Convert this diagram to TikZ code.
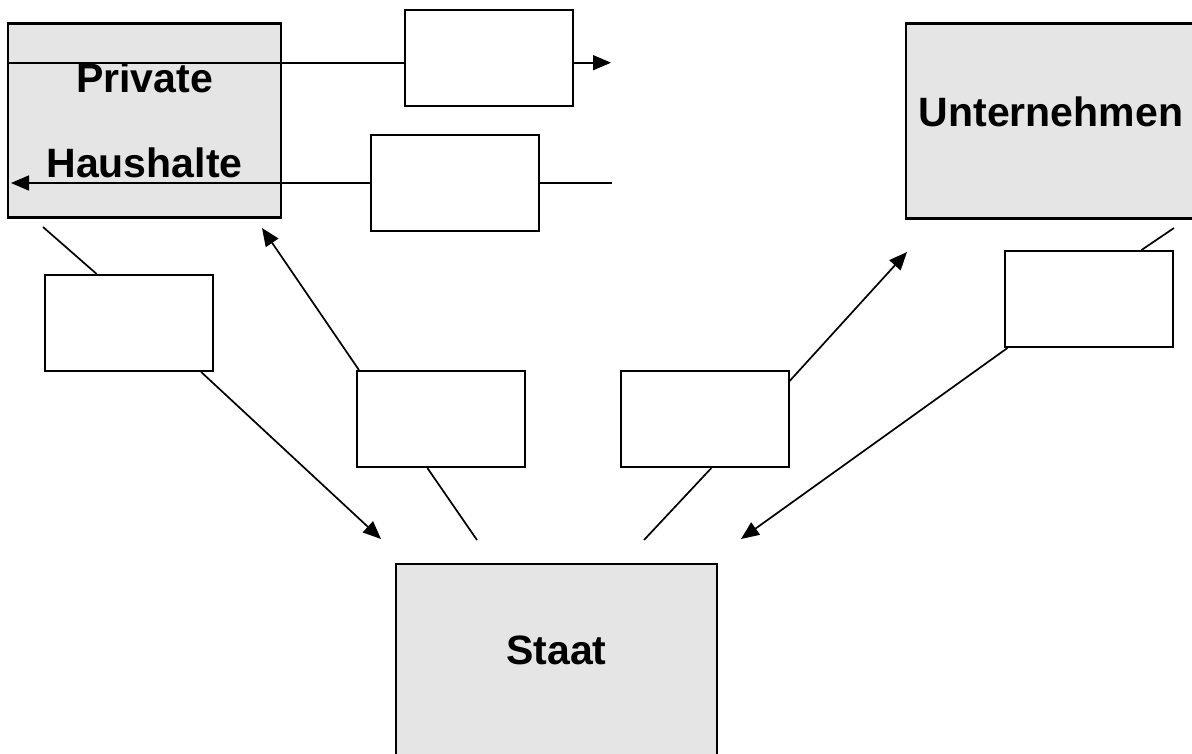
\documentclass[tikz,border=0pt]{standalone}
\usepackage{fontspec}
\setmainfont{Liberation Sans}
\usetikzlibrary{arrows.meta,positioning}

\begin{document}
\begin{tikzpicture}[x=1pt,y=-1pt]
		\tikzstyle{sector_box}=[draw=black, line width=2.6pt, fill=black!10, inner sep=0pt]
		\tikzstyle{flow_box}=[draw=black, line width=2pt, fill=white, minimum width=168pt, minimum height=96pt, inner sep=0pt]
		\tikzstyle{sector_text}=[font=\bfseries\fontsize{41}{85}\selectfont, inner sep=0pt, align=center]
		\tikzstyle{flow_line}=[line width=1.7pt]
		\tikzstyle{flow_arrow}=[flow_line, -{Triangle[length=18pt,width=15pt]}]

		\useasboundingbox (0,0) rectangle (1192,753);

		% sectors
		\node [sector_box, minimum width=273pt, minimum height=194pt, sector_text] (haushalte) at (144.5,120.5) {Private\\Haushalte};

		\node [sector_box, minimum width=290pt, minimum height=195pt] (unternehmen) at (1051,121) {};
		\node [sector_text, below=74pt] at (unternehmen.north) {Unternehmen};

		\node [sector_box, minimum width=321pt, minimum height=230pt] (staat) at (556.5,679) {};
		\node [sector_text, below=73pt] at (staat.north) {Staat};

		% empty flow boxes
		\node [flow_box] (F1) at (489,58) {};
		\node [flow_box] (F2) at (454.5,183) {};
		\node [flow_box] (F3) at (128.5,323) {};
		\node [flow_box] (F4) at (440.5,419) {};
		\node [flow_box] (F5) [right=94pt of F4] {};
		\node [flow_box] (F6) at (1089,299) {};

		% free ends
		\coordinate (c1) at (9,62.7);
		\coordinate (c2) at (611,62.7);
		\coordinate (c3) at (612,183);
		\coordinate (c4) at (11,183);
		\coordinate (c5) at (43,227);
		\coordinate (c6) at (381,539);
		\coordinate (c7) at (262,228);
		\coordinate (c8) at (477,540);
		\coordinate (c9) at (644,540);
		\coordinate (c10) at (907,252);
		\coordinate (c11) at (1174,228);
		\coordinate (c12) at (741,539);

		% flows
		\draw [flow_line] (c1) -- (F1.west |- c1);
		\draw [flow_arrow] (F1.east |- c1) -- (c2);
		\draw [flow_line] (c3) -- (F2.east);
		\draw [flow_arrow] (F2.west) -- (c4);
		\draw [flow_line] (c5) -- (F3.123);
		\draw [flow_arrow] (F3.-34) -- (c6);
		\draw [flow_arrow] (F4.149) -- (c7);
		\draw [flow_line] (F4.-105) -- (c8);
		\draw [flow_line] (F5.-82) -- (c9);
		\draw [flow_arrow] (F5.24) -- (c10);
		\draw [flow_line] (c11) -- (F6.43);
		\draw [flow_arrow] (F6.-149) -- (c12);

	\end{tikzpicture}
\end{document}
